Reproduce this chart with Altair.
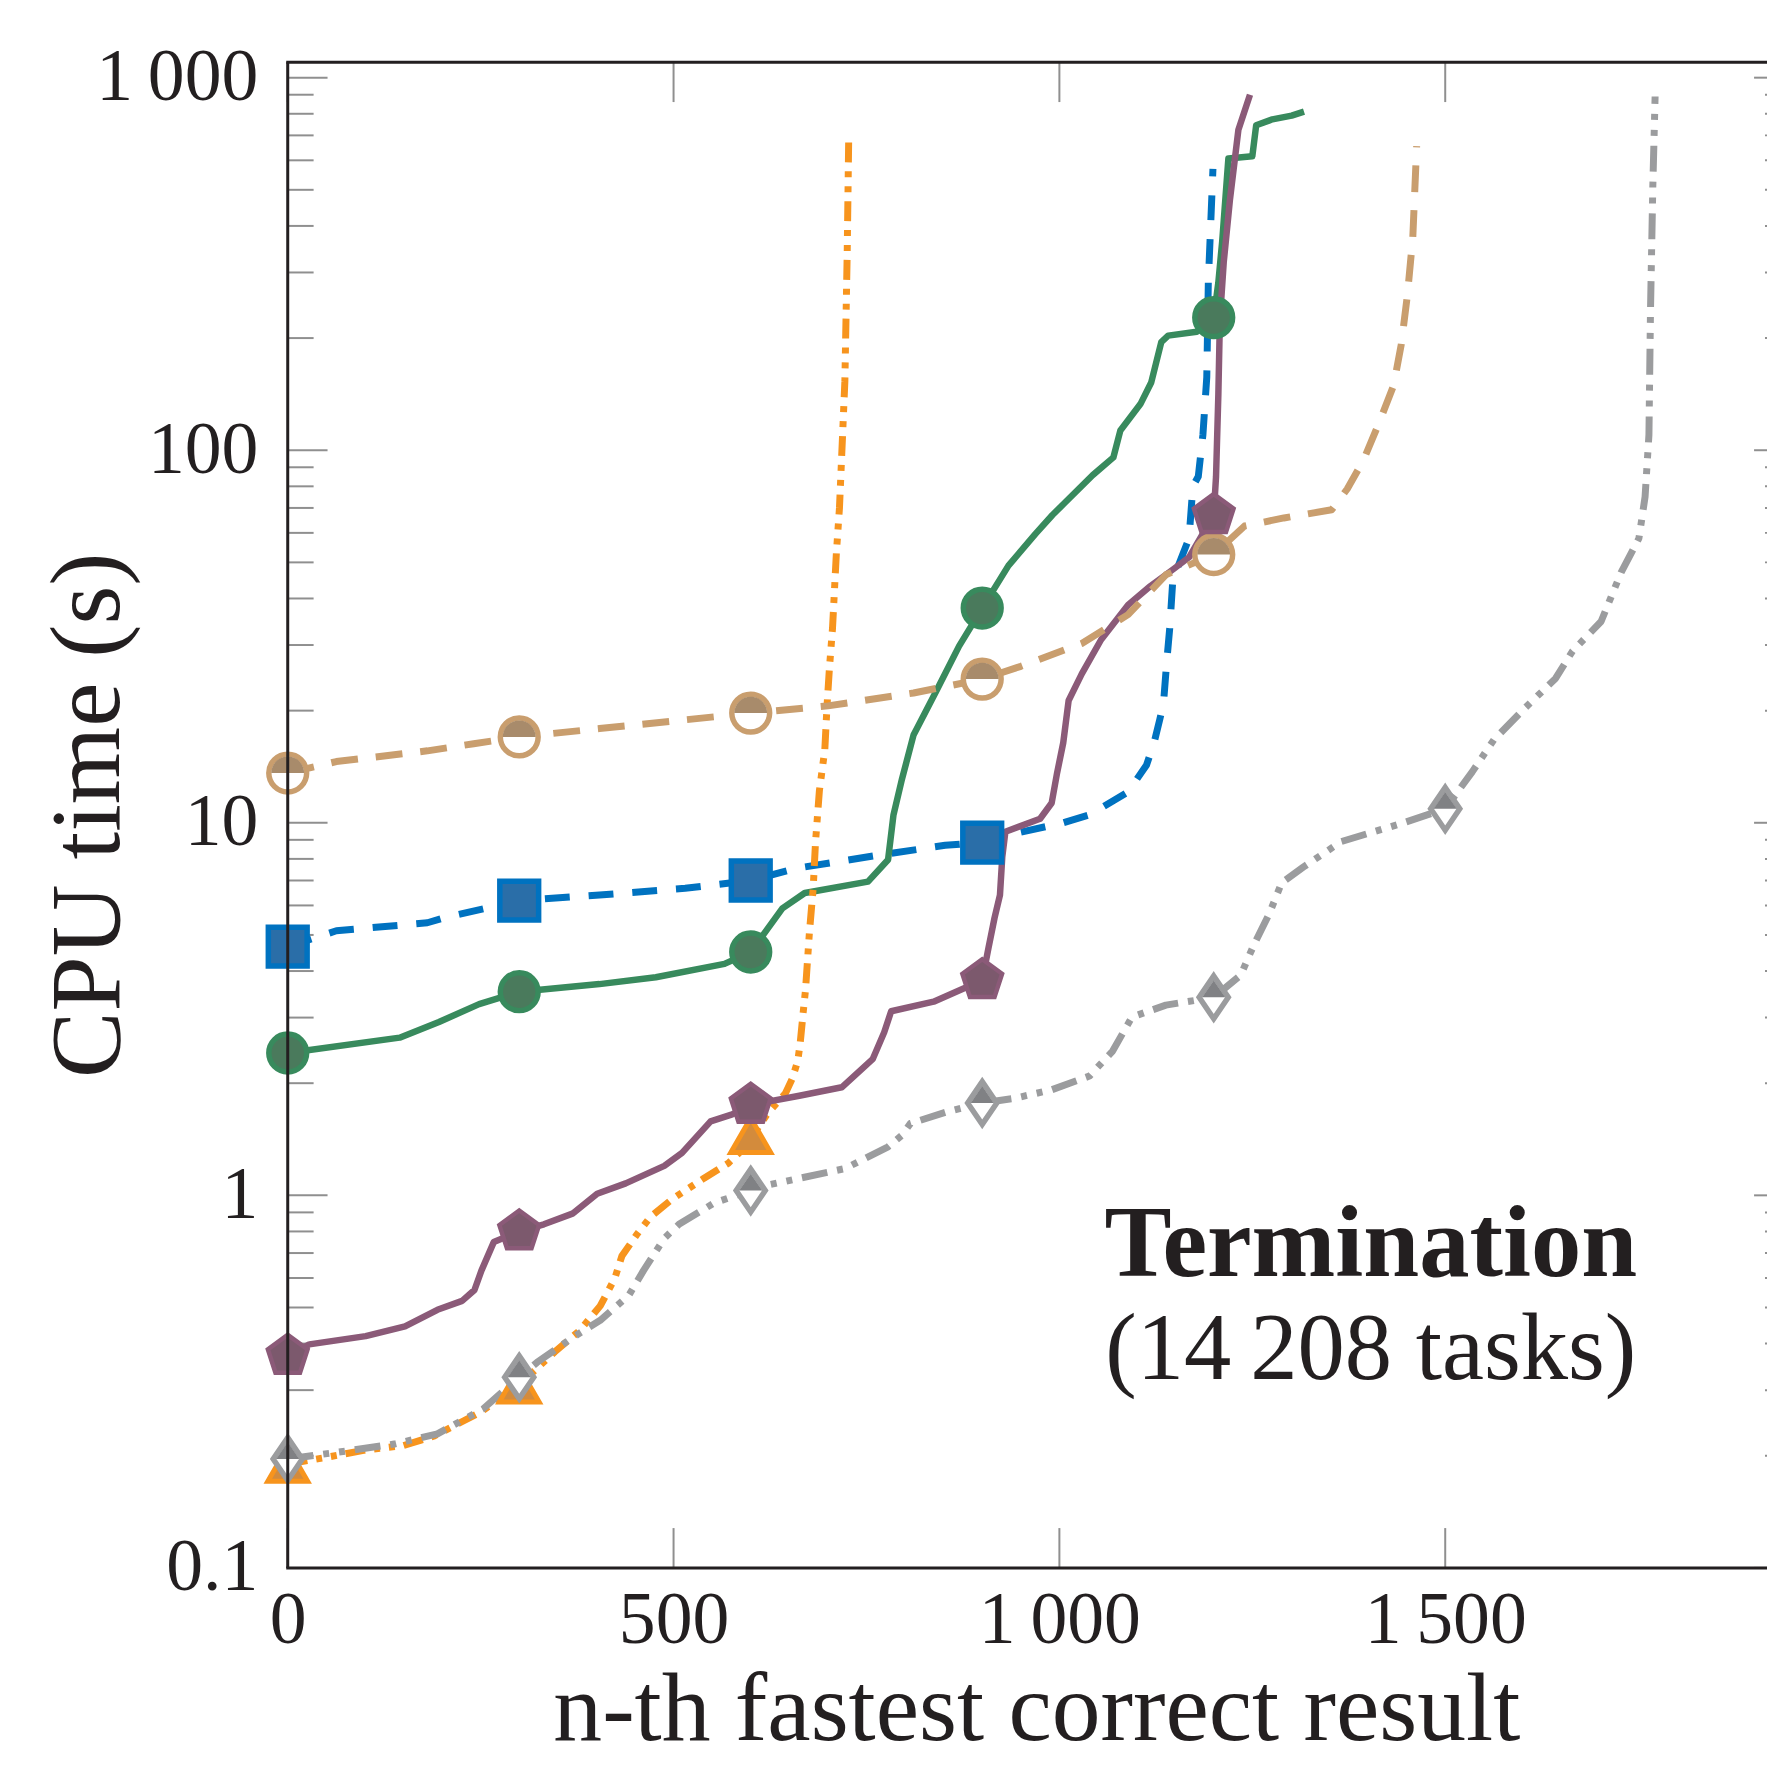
import altair as alt
import pandas as pd

FONT = "Liberation Serif"
INK = "#231f20"
TICK = "#8f8f8f"

# ---------------- data ----------------
orange_n = [0, 50, 100, 150, 190, 250, 300, 346, 378, 405, 424, 433, 452, 470, 498, 539, 571, 590,
            601, 622, 645, 654, 661, 664, 668, 671, 676, 681, 684, 689, 696, 699, 702, 706, 711, 715,
            722, 725, 727]
orange_t = [0.19, 0.198, 0.207, 0.213, 0.226, 0.262, 0.31, 0.38, 0.433, 0.505, 0.60, 0.687, 0.783,
            0.875, 0.976, 1.11, 1.22, 1.33, 1.43, 1.66, 1.88, 2.06, 2.30, 2.55, 3.1, 3.56, 5.06, 6.7,
            8.9, 12.2, 15.7, 20.8, 26.0, 33.3, 53.0, 70.0, 153.0, 336.0, 693.0]

gray_n = [0, 69, 138, 194, 253, 300, 323, 369, 405, 442, 461, 488, 507, 553, 600, 626, 722, 778, 796,
          807, 852, 900, 941, 990, 1039, 1069, 1094, 1138, 1200, 1235, 1252, 1272, 1288, 1316, 1365,
          1446, 1500, 1535, 1563, 1603, 1643, 1665, 1702, 1728, 1751, 1759, 1764, 1766, 1769, 1772]
gray_t = [0.196, 0.205, 0.215, 0.229, 0.267, 0.325, 0.356, 0.415, 0.462, 0.539, 0.628, 0.767, 0.836,
          0.955, 1.03, 1.07, 1.18, 1.35, 1.45, 1.56, 1.67, 1.77, 1.82, 1.92, 2.09, 2.44, 3.01, 3.24,
          3.40, 3.9, 4.7, 5.7, 6.9, 7.6, 8.9, 10.0, 10.9, 13.7, 16.7, 20.3, 24.4, 28.9, 34.7, 47.0,
          58.0, 75.0, 110.0, 236.0, 508.0, 890.0]

purple_n = [0, 28, 101, 152, 194, 226, 242, 251, 267, 300, 332, 369, 401, 438, 488, 511, 548, 576,
            600, 663, 718, 758, 773, 782, 837, 900, 908, 916, 923, 926, 930, 975, 990, 997, 1005,
            1012, 1029, 1054, 1089, 1118, 1148, 1168, 1200, 1203, 1206, 1208, 1213, 1221, 1232, 1247]
purple_t = [0.371, 0.398, 0.419, 0.445, 0.493, 0.521, 0.557, 0.628, 0.749, 0.80, 0.836, 0.893, 1.01,
            1.077, 1.20, 1.30, 1.58, 1.65, 1.75, 1.85, 1.95, 2.32, 2.74, 3.12, 3.31, 3.78, 4.6, 5.56,
            6.4, 8.1, 9.46, 10.25, 11.3, 13.6, 16.4, 21.3, 25.1, 31.0, 38.4, 43.2, 48.0, 51.6, 67.0,
            85.0, 141.0, 224.0, 320.0, 470.0, 725.0, 900.0]

green_n = [0, 145, 196, 248, 300, 404, 477, 566, 600, 641, 670, 752, 778, 785, 796, 811, 841, 870,
           900, 934, 969, 991, 1008, 1043, 1070, 1079, 1105, 1119, 1132, 1141, 1178, 1200, 1206,
           1211, 1219, 1250, 1255, 1276, 1301, 1317]
green_t = [2.41, 2.65, 2.92, 3.26, 3.52, 3.69, 3.85, 4.18, 4.5, 5.89, 6.48, 6.95, 7.96, 10.5, 13.1,
           17.2, 22.7, 29.8, 37.7, 49.0, 59.6, 67.0, 72.6, 85.7, 95.7, 113.0, 133.0, 152.0, 195.0,
           203.0, 208.0, 227.0, 282.0, 364.0, 607.0, 615.0, 745.0, 773.0, 791.0, 811.0]

blue_n = [0, 63, 181, 204, 256, 300, 404, 515, 600, 659, 768, 852, 900, 941, 1005, 1039, 1089, 1113,
          1123, 1130, 1135, 1139, 1143, 1147, 1168, 1173, 1180, 1186, 1191, 1193, 1199]
blue_t = [4.65, 5.13, 5.39, 5.57, 5.89, 6.18, 6.40, 6.67, 7.0, 7.55, 8.2, 8.7, 8.85, 9.35, 10.0, 10.5,
          12.1, 14.3, 16.5, 18.9, 21.0, 26.9, 33.3, 44.9, 58.0, 80.0, 85.0, 110.0, 157.0, 282.0, 569.0]

tan_n = [0, 63, 181, 241, 300, 404, 515, 600, 700, 811, 900, 950, 1029, 1089, 1138, 1200, 1240, 1291,
         1353, 1373, 1394, 1414, 1433, 1443, 1451, 1458, 1463]
tan_t = [13.6, 14.6, 15.6, 16.3, 17.0, 17.9, 18.9, 19.7, 20.6, 22.3, 24.3, 26.3, 30.3, 36.2, 46.3,
         52.5, 62.6, 65.8, 69.2, 78.7, 94.0, 118.0, 149.0, 192.0, 261.0, 373.0, 655.0]

orange_mark_n = [0, 300, 600]
orange_mark_t = [0.19, 0.31, 1.45]
gray_mark_n = [0, 300, 600, 900, 1200, 1500]
gray_mark_t = [0.196, 0.325, 1.03, 1.77, 3.40, 10.9]
purple_mark_n = [0, 300, 600, 900, 1200]
purple_mark_t = [0.371, 0.80, 1.75, 3.78, 67.0]
green_mark_n = [0, 300, 600, 900, 1200]
green_mark_t = [2.41, 3.52, 4.5, 37.7, 227.0]
blue_mark_n = [0, 300, 600, 900]
blue_mark_t = [4.65, 6.18, 7.0, 8.85]
tan_mark_n = [0, 300, 600, 900, 1200]
tan_mark_t = [13.6, 17.0, 19.7, 24.3, 52.5]

x_ticks = [0, 500, 1000, 1500]
x_tick_labels = ["0", "500", "1\u2009000", "1\u2009500"]
y_major = [0.1, 1, 10, 100, 1000]
y_tick_labels = ["0.1", "1", "10", "100", "1\u2009000"]
y_minor = [m * 10.0 ** e for e in range(-1, 3) for m in range(2, 10)]

x_title = "n-th fastest correct result"
y_title = "CPU time (s)"
note_lines = ["Termination", "(14\u2009208 tasks)"]

# ---------------- layout ----------------
W = 1486
H = 1512.5

xscale = alt.Scale(domain=[0, 1917], nice=False, zero=False)
yscale = alt.Scale(type="log", domain=[0.1, 1100], nice=False)


def label_expr(vals, labels):
    parts = []
    for v, l in zip(vals, labels):
        parts.append(f"abs(datum.value - {v}) < {abs(v) * 1e-6 + 1e-9} ? '{l}'")
    return " : ".join(parts) + " : ''"


xaxis = alt.Axis(values=x_ticks, labelExpr=label_expr(x_ticks, x_tick_labels), title=x_title,
                 domain=False, ticks=False, tickSize=0, grid=False, labelPadding=53,
                 labelBaseline="middle", labelFontSize=74, labelFont=FONT, labelColor=INK,
                 labelFlush=False, labelOverlap=False, labelBound=False,
                 titleFont=FONT, titleFontSize=98, titleFontWeight="normal", titleColor=INK,
                 titleBaseline="alphabetic", titleY=172, titleX=752, titleAlign="center")
yaxis = alt.Axis(values=y_major, labelExpr=label_expr(y_major, y_tick_labels), title=y_title,
                 domain=False, ticks=False, tickSize=0, grid=False, labelPadding=30,
                 labelBaseline="middle", labelFontSize=74, labelFont=FONT, labelColor=INK,
                 labelFlush=False, labelOverlap=False, labelBound=False,
                 titleFont=FONT, titleFontSize=100, titleFontWeight="normal", titleColor=INK,
                 titleAngle=270, titleBaseline="alphabetic", titleX=-170, titleY=756,
                 titleAlign="center")


def X(field):
    return alt.X(f"{field}:Q", scale=xscale, axis=xaxis)


def Y(field):
    return alt.Y(f"{field}:Q", scale=yscale, axis=yaxis)


layers = []

# tick marks (inside, pgfplots style)
ymaj = pd.DataFrame({"v": y_major})
ymin = pd.DataFrame({"v": y_minor})
xt = pd.DataFrame({"v": x_ticks})
rule = dict(color=TICK, strokeWidth=2)
layers += [
    alt.Chart(ymaj).mark_rule(**rule).encode(y=Y("v"), x=alt.value(0), x2=alt.value(40)),
    alt.Chart(ymin).mark_rule(**rule).encode(y=Y("v"), x=alt.value(0), x2=alt.value(26)),
    alt.Chart(ymaj).mark_rule(**rule).encode(y=Y("v"), x=alt.value(W - 13), x2=alt.value(W)),
    alt.Chart(ymin).mark_rule(**rule).encode(y=Y("v"), x=alt.value(W - 2), x2=alt.value(W)),
    alt.Chart(xt).mark_rule(**rule).encode(x=X("v"), y=alt.value(H), y2=alt.value(H - 40)),
    alt.Chart(xt).mark_rule(**rule).encode(x=X("v"), y=alt.value(0), y2=alt.value(40)),
]


def series(ns, ts):
    return pd.DataFrame({"n": ns, "t": ts})


line_specs = [
    (blue_n, blue_t, "#0072c0", 7, [25, 19]),
    (green_n, green_t, "#388a5d", 6.5, None),
    (orange_n, orange_t, "#f7941d", 7, [20, 9, 6, 9, 6, 9]),
    (gray_n, gray_t, "#9b9c9e", 7, [26, 10, 6, 10, 6, 10]),
    (purple_n, purple_t, "#8b5a78", 6.5, None),
    (tan_n, tan_t, "#c99e6e", 7, [27, 18]),
]
for ns, ts, col, sw, dash in line_specs:
    kw = dict(color=col, strokeWidth=sw, strokeJoin="round", strokeCap="butt")
    if dash:
        kw["strokeDash"] = dash
    layers.append(alt.Chart(series(ns, ts)).mark_line(**kw).encode(x=X("n"), y=Y("t")))

PENT = "M0,-1L0.951,-0.309L0.588,0.809L-0.588,0.809L-0.951,-0.309Z"
DIAM = "M0,-1L0.68,0L0,1L-0.68,0Z"
DIAM_TOP = "M0,-1L0.68,0L-0.68,0Z"
HALF_CIRC = "M-1,0A1,1,0,0,1,1,0Z"


def marks(ns, ts, shape, fill, stroke, sw, size):
    kw = dict(shape=shape, fill=fill, size=size, opacity=1, fillOpacity=1, filled=True)
    if stroke:
        kw.update(stroke=stroke, strokeWidth=sw, strokeOpacity=1)
    else:
        kw.update(strokeWidth=0)
    return alt.Chart(series(ns, ts)).mark_point(**kw).encode(x=X("n"), y=Y("t"))


layers += [
    marks(orange_mark_n, orange_mark_t, "triangle-up", "#d38b3c", "#f7941d", 5, 1600),
    marks(tan_mark_n, tan_mark_t, "circle", "#ffffff", "#c99e6e", 5.5, 1444),
    marks(tan_mark_n, tan_mark_t, HALF_CIRC, "#a88b6b", None, 0, 1089),
    marks(blue_mark_n, blue_mark_t, "square", "#2a6ea8", "#0072c0", 5.5, 1521),
    marks(green_mark_n, green_mark_t, "circle", "#4a7a5c", "#388a5d", 5.5, 1444),
    marks(gray_mark_n, gray_mark_t, DIAM, "#ffffff", "#9b9c9e", 5.5, 1849),
    marks(gray_mark_n, gray_mark_t, DIAM_TOP, "#808184", None, 0, 1156),
    marks(purple_mark_n, purple_mark_t, PENT, "#7c596d", "#8b5a78", 4.5, 1764),
]

# frame (left, top, bottom spines; right spine is cropped off)
one = pd.DataFrame({"k": [0]})
spine = dict(color=INK, strokeWidth=3)
layers += [
    alt.Chart(one).mark_rule(**spine).encode(x=alt.value(0), y=alt.value(0), y2=alt.value(H)),
    alt.Chart(one).mark_rule(**spine).encode(y=alt.value(0), x=alt.value(-1.5), x2=alt.value(W)),
    alt.Chart(one).mark_rule(**spine).encode(y=alt.value(H), x=alt.value(-1.5), x2=alt.value(W)),
]

# annotation
layers += [
    alt.Chart(one).mark_text(font=FONT, fontSize=101, fontWeight="bold", color=INK,
                             align="center", baseline="alphabetic")
    .encode(x=alt.value(1088), y=alt.value(1219.5), text=alt.value(note_lines[0])),
    alt.Chart(one).mark_text(font=FONT, fontSize=95, color=INK,
                             align="center", baseline="alphabetic")
    .encode(x=alt.value(1088), y=alt.value(1322.5), text=alt.value(note_lines[1])),
]

chart = alt.layer(*layers).properties(
    width=W, height=H,
    autosize=alt.AutoSizeParams(type="none"),
    padding={"left": 281, "top": 50.5, "right": 0, "bottom": 193},
).configure_view(stroke=None).configure(background="white")

chart.save("out.html", embed_options={"renderer": "svg", "actions": False})
